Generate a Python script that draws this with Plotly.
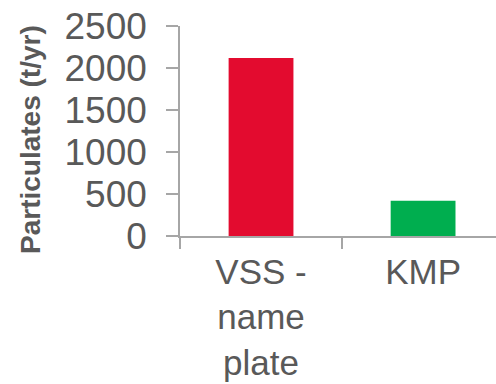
import plotly.graph_objects as go

# Annual particulate emissions by source
categories = ["VSS -<br>name<br>plate", "KMP"]
emissions = [2120, 420]
bar_colors = ["#E30B2F", "#00AE4F"]
y_ticks = [0, 500, 1000, 1500, 2000, 2500]

text_color = "#595959"
axis_color = "#A6A6A6"

fig = go.Figure(
    go.Bar(
        x=categories,
        y=emissions,
        marker=dict(color=bar_colors, line=dict(width=0)),
        width=0.4,
    )
)

fig.update_layout(
    width=496,
    height=384,
    margin=dict(l=180, r=0, t=26, b=148),
    paper_bgcolor="white",
    plot_bgcolor="white",
    showlegend=False,
    font=dict(family="Liberation Sans, Arial, sans-serif", color=text_color, size=36),
    annotations=[
        dict(
            text="<b>Particulates (t/yr)</b>",
            xref="paper",
            yref="paper",
            x=-150 / 316,
            y=(236 - 140) / 210,
            xanchor="center",
            yanchor="middle",
            textangle=-90,
            showarrow=False,
            font=dict(size=28, color=text_color),
        )
    ],
)

fig.update_xaxes(
    type="category",
    range=[-0.5, 1.45],
    automargin=False,
    showline=True,
    linecolor=axis_color,
    linewidth=1.5,
    ticks="outside",
    tickson="boundaries",
    ticklen=11,
    tickwidth=1.5,
    tickcolor=axis_color,
    showgrid=False,
    ticklabelstandoff=4,
    tickfont=dict(size=35, color=text_color),
)

fig.update_yaxes(
    range=[0, 2500],
    tickvals=y_ticks,
    automargin=False,
    showline=True,
    linecolor=axis_color,
    linewidth=1.5,
    ticks="outside",
    ticklen=12,
    tickwidth=1.5,
    tickcolor=axis_color,
    showgrid=False,
    zeroline=False,
    ticklabelstandoff=12,
    tickfont=dict(size=37, color=text_color),
)

fig.write_html("out.html")
